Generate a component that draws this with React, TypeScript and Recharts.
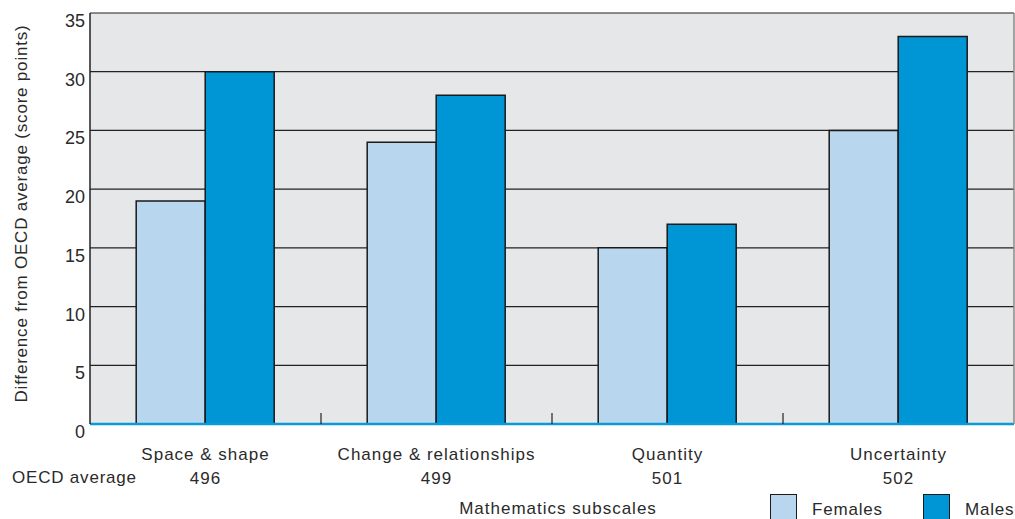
import React from 'react';
import { BarChart, Bar, XAxis, YAxis, CartesianGrid } from 'recharts';

const categories = ['Space & shape', 'Change & relationships', 'Quantity', 'Uncertainty'];
const oecdAverages = ['496', '499', '501', '502'];
const females = [19, 24, 15, 25];
const males = [30, 28, 17, 33];
const yTicks = [0, 5, 10, 15, 20, 25, 30, 35];

const series = [
  { key: 'females', name: 'Females', color: '#b9d6ef' },
  { key: 'males', name: 'Males', color: '#0096d6' },
];

const data = categories.map((name, i) => ({
  name,
  avg: oecdAverages[i],
  females: females[i],
  males: males[i],
}));

const W = 1015;
const H = 519;
const Y_AXIS_W = 90;
const FONT = '"Liberation Sans", Arial, Helvetica, sans-serif';
const TEXT = '#2a2a2a';
const halfBand = (W - Y_AXIS_W - 1) / categories.length / 2;

const XTick = (props: any) => {
  const { x, y, payload, index } = props;
  return (
    <g>
      {index < categories.length - 1 && (
        <line x1={x + halfBand} x2={x + halfBand} y1={y} y2={y - 11} stroke="#222" strokeWidth={1.2} />
      )}
      <text x={x} y={y + 30} textAnchor="middle" dominantBaseline="central" fontSize={17} letterSpacing={1} fill={TEXT} fontFamily={FONT}>
        {payload.value}
      </text>
      <text x={x} y={y + 54} textAnchor="middle" dominantBaseline="central" fontSize={17} letterSpacing={1} fill={TEXT} fontFamily={FONT}>
        {data[index] ? data[index].avg : ''}
      </text>
    </g>
  );
};

const YTick = (props: any) => {
  const { x, y, payload } = props;
  return (
    <text x={x} y={y + 8} textAnchor="end" dominantBaseline="central" fontSize={18} fill={TEXT} fontFamily={FONT}>
      {payload.value}
    </text>
  );
};

const YLabel = (props: any) => {
  const vb = props.viewBox || { y: 13, height: 411 };
  const cx = 21;
  const cy = vb.y + vb.height / 2 - 5;
  return (
    <text x={cx} y={cy} transform={`rotate(-90 ${cx} ${cy})`} textAnchor="middle" dominantBaseline="central" fontSize={17} letterSpacing={0.8} fill={TEXT} fontFamily={FONT}>
      Difference from OECD average (score points)
    </text>
  );
};

const XLabel = (props: any) => {
  const vb = props.viewBox || { x: 90, width: 924, y: 424 };
  return (
    <text x={vb.x + vb.width / 2 + 6} y={vb.y + 84} textAnchor="middle" dominantBaseline="central" fontSize={17} letterSpacing={1} fill={TEXT} fontFamily={FONT}>
      Mathematics subscales
    </text>
  );
};

export default function App() {
  return (
    <div style={{ position: 'absolute', left: 0, top: 0, width: W, height: H, background: '#fff', overflow: 'hidden', fontFamily: FONT }}>
      <BarChart width={W} height={H} data={data} margin={{ top: 13, right: 0, left: 0, bottom: 0 }} barCategoryGap="20%" barGap={0}>
        <CartesianGrid vertical={false} fill="#e6e7e9" stroke="#222" strokeWidth={1.2} />
        <XAxis
          dataKey="name"
          height={95}
          tickSize={0}
          tickMargin={0}
          tickLine={false}
          axisLine={{ stroke: '#0a9ad8', strokeWidth: 2.5 }}
          tick={<XTick />}
          interval={0}
          label={(p: any) => <XLabel {...p} />}
        />
        <YAxis
          width={Y_AXIS_W}
          domain={[0, 35]}
          ticks={yTicks}
          tickLine={false}
          tickSize={0}
          tickMargin={5}
          axisLine={{ stroke: '#222', strokeWidth: 1.5 }}
          tick={<YTick />}
          label={(p: any) => <YLabel {...p} />}
        />
        <YAxis yAxisId="right" orientation="right" width={1} domain={[0, 35]} tick={false} tickLine={false} axisLine={{ stroke: '#888', strokeWidth: 1.5 }} />
        {series.map((s) => (
          <Bar key={s.key} dataKey={s.key} name={s.name} fill={s.color} stroke="#1a1a1a" strokeWidth={1.5} isAnimationActive={false} />
        ))}
      </BarChart>
      <div style={{ position: 'absolute', left: 12, top: 466, fontSize: 17, letterSpacing: 0.8, color: TEXT, lineHeight: '24px' }}>
        OECD average
      </div>
      {series.map((s, i) => (
        <div key={s.key} style={{ position: 'absolute', left: i === 0 ? 770 : 923, top: 494, display: 'flex', alignItems: 'flex-start' }}>
          <div style={{ width: 27, height: 30, background: s.color, border: '1.5px solid #1a1a1a', boxSizing: 'border-box' }} />
          <div style={{ marginLeft: 15, marginTop: 4, fontSize: 17, letterSpacing: 0.8, color: TEXT, lineHeight: '24px' }}>{s.name}</div>
        </div>
      ))}
    </div>
  );
}
